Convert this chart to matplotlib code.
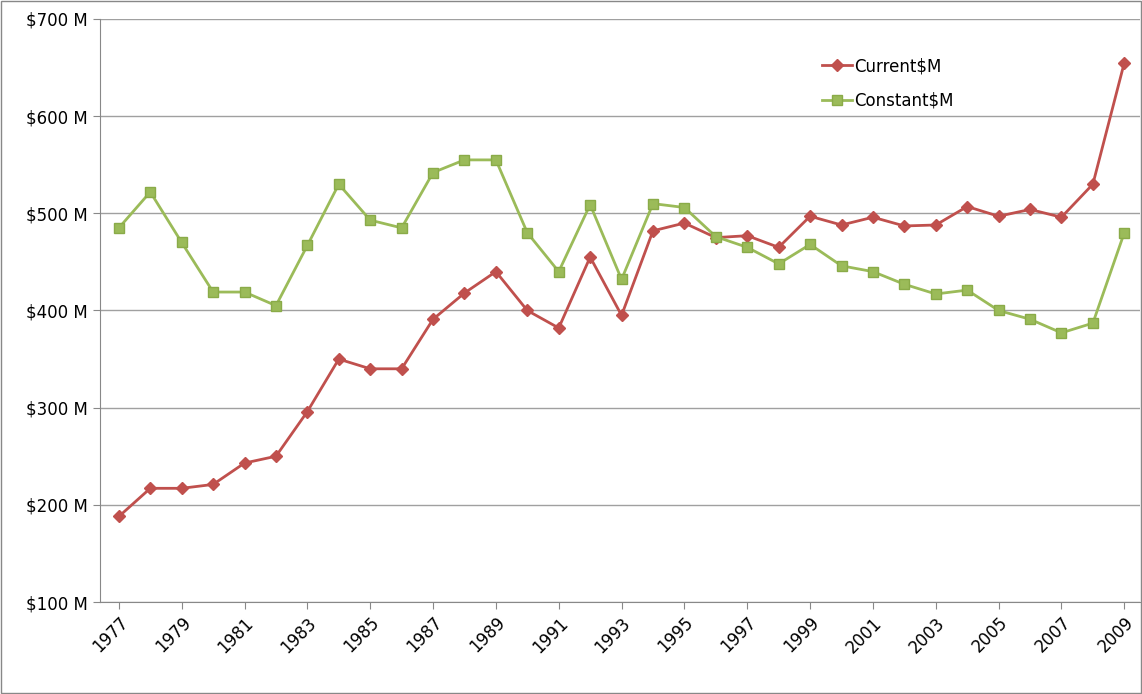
import matplotlib
matplotlib.use("Agg")
import matplotlib.pyplot as plt
from matplotlib.ticker import FuncFormatter

years = list(range(1977, 2010))
current = [188,217,217,221,243,250,296,350,340,340,391,418,440,400,382,455,395,482,490,475,477,465,497,488,496,487,488,507,497,504,496,530,655]
constant = [485,522,470,419,419,405,467,530,493,485,542,555,555,480,440,509,432,510,506,476,465,448,468,446,440,427,417,421,400,391,377,387,480]

fig = plt.figure(figsize=(11.42, 6.94), dpi=100)
ax = fig.add_axes([100/1142, 1-602/694, 1040/1142, 583/694])
fig.patches.append(plt.Rectangle((0.001, 0.001), 0.998, 0.998, transform=fig.transFigure,
                                 fill=False, edgecolor='#888888', lw=1))
ax.plot(years, current, color='#c0504d', marker='D', markersize=6, lw=2, label='Current$M')
ax.plot(years, constant, color='#9bbb59', marker='s', markersize=7, lw=2,
        markeredgecolor='#8aab48', label='Constant$M')
ax.set_ylim(100, 700)
ax.set_xlim(1976.4, 2009.5)
ax.set_yticks(range(100, 701, 100))
ax.yaxis.set_major_formatter(FuncFormatter(lambda v, p: f"${int(v)} M"))
ax.set_xticks(range(1977, 2010, 2))
ax.set_xticklabels([str(y) for y in range(1977, 2010, 2)], rotation=45, ha='right', rotation_mode='anchor')
ax.grid(axis='y', color='#a0a0a0', lw=1)
ax.set_axisbelow(True)
for s in ['top', 'right']:
    ax.spines[s].set_visible(False)
ax.spines['left'].set_color('#888888')
ax.spines['bottom'].set_color('#888888')
ax.tick_params(labelsize=12, colors='black')
ax.tick_params(axis='x', length=5, color='#888888')
ax.tick_params(axis='y', length=5, color='#888888')
leg = ax.legend(loc='upper left', bbox_to_anchor=(0.68, 0.96), frameon=False, fontsize=12,
                handlelength=1.8, handletextpad=0.1, labelspacing=1.0)
fig.savefig("out.png", dpi=100)
